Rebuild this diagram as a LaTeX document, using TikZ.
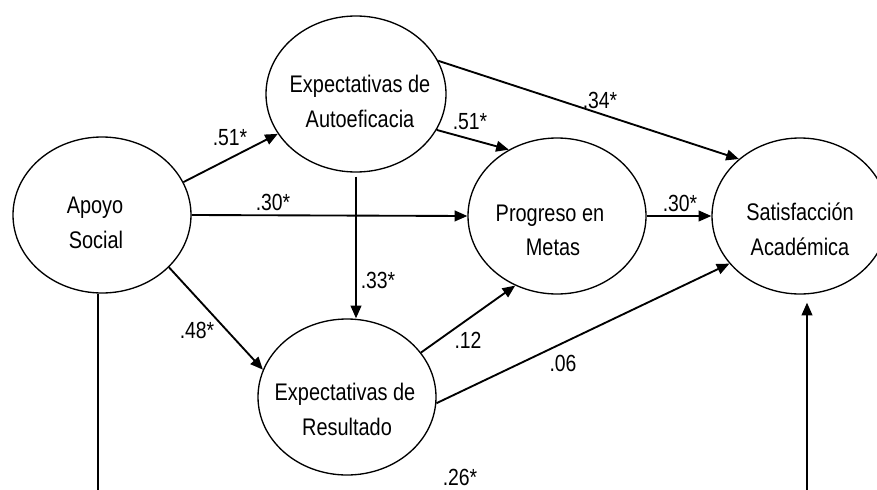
\documentclass[tikz,border=0pt]{standalone}
\usepackage{fontspec}
\setmainfont{Liberation Sans}[FakeStretch=0.83]
\usetikzlibrary{shapes.geometric,arrows.meta}
\begin{document}
\begin{tikzpicture}[x=0.75pt,y=-0.75pt,
  var/.style={draw, ellipse, line width=1pt, minimum width=133.5pt, minimum height=117pt, inner sep=0pt},
  txt/.style={anchor=base, inner sep=0pt, font=\fontsize{18}{21}\selectfont},
  coef/.style={inner sep=0pt, font=\fontsize{17.5}{20}\selectfont},
  conn/.style={line width=1.4pt, -{Triangle[length=9.5pt,width=8pt]}},
  plain/.style={line width=1.4pt},
]
\useasboundingbox (0,0) rectangle (877,489);
\clip (0,0) rectangle (877,489);

% variables
\node[var] (A) at (102,215) {};
\node[var, minimum width=135pt] (E) at (356,94) {};
\node[var] (P) at (557,216) {};
\node[var, minimum width=132pt] (S) at (800,216) {};
\node[var] (R) at (347,397) {};

% texts
\node[txt] (a1) at (95,213) {Apoyo};
\node[txt] (a2) at (96,248) {Social};
\node[txt] (e1) at (360,92) {Expectativas de};
\node[txt] (e2) at (360,127) {Autoeficacia};
\node[txt] (p1) at (550,221) {Progreso en};
\node[txt] (p2) at (553,255) {Metas};
\node[txt] (s1) at (800,220) {Satisfacción};
\node[txt] (s2) at (800,255) {Académica};
\node[txt] (r1) at (345,400) {Expectativas de};
\node[txt] (r2) at (347,435) {Resultado};

% connectors
\draw[conn] (A.22) -- (E.207);
\draw[conn] (A.0) -- (P.180);
\draw[conn] (A.-38) -- (R.162);
\draw[conn, shorten <=3pt] (E.south) -- (E.south |- R.north);
\draw[conn] (E.-24) -- (P.126);
\draw[conn] (E.22) -- (S.137);
\draw[conn] (P.0) -- (S.180);
\draw[conn] (R.31) -- (P.239);
\draw[conn] (R.-4) -- (S.214);

\coordinate (abot) at (98,492);
\coordinate (sbot) at (807,492);
\draw[plain] (abot |- A.south) -- (abot);
\draw[conn, shorten >=6pt] (sbot) -- (sbot |- S.south);

% coefficients
\node[coef] (c1) at (230,138) {.51*};
\node[coef] (c2) at (273,202) {.30*};
\node[coef] (c3) at (197,330) {.48*};
\node[coef] (c4) at (378,280) {.33*};
\node[coef] (c5) at (470,122) {.51*};
\node[coef] (c6) at (600,100) {.34*};
\node[coef] (c7) at (680,203) {.30*};
\node[coef] (c8) at (468,340) {.12};
\node[coef] (c9) at (563,363) {.06};
\node[coef] (c10) at (460,477) {.26*};
\end{tikzpicture}
\end{document}
